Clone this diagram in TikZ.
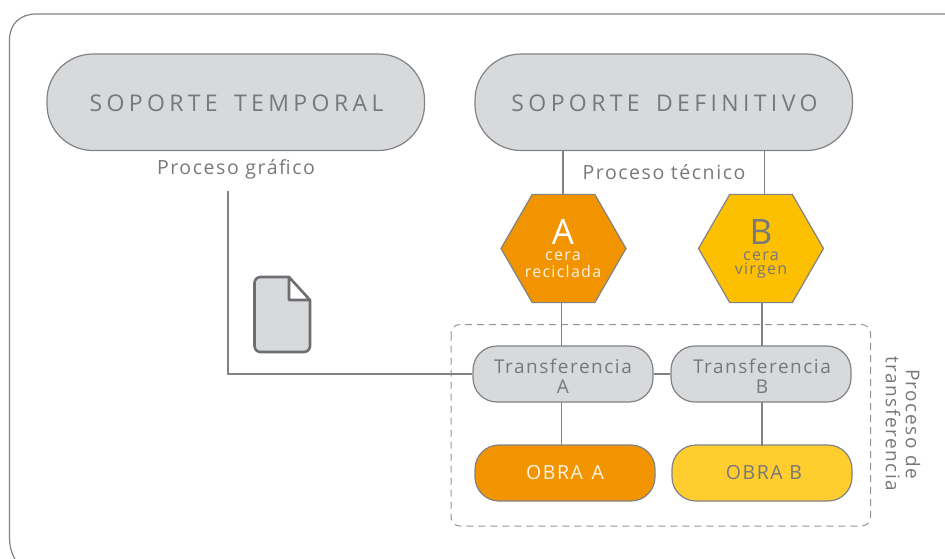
\documentclass[tikz,border=0pt]{standalone}
\usepackage{fontspec}
\setmainfont{Open Sans}
\newfontfamily\widesp[LetterSpace=19]{Open Sans}
\newfontfamily\midsp[LetterSpace=8]{Open Sans}
\definecolor{ln}{HTML}{808285}
\definecolor{fillg}{HTML}{D8D9DB}
\definecolor{txt}{HTML}{76787B}
\definecolor{orng}{HTML}{F29400}
\definecolor{yel}{HTML}{FCC000}
\definecolor{yel2}{HTML}{FFCE2E}
\definecolor{wht}{HTML}{FFF4E0}
\usetikzlibrary{shapes.geometric}
\tikzset{
 x=1pt,y=-1pt,
 conn/.style={draw=ln,line width=1.3pt},
 bigpill/.style={draw=ln,line width=1.2pt,rounded corners=46pt,fill=fillg,minimum width=377.5pt,minimum height=96.5pt,inner sep=0pt,text=txt,font=\widesp\fontsize{23}{23}\selectfont},
 smallpill/.style={draw=ln,line width=1.2pt,rounded corners=24pt,fill=fillg,minimum width=180pt,minimum height=56pt,inner sep=0pt,text=txt,align=center,font=\midsp\fontsize{19}{20}\selectfont},
 hexnode/.style={draw=ln,line width=1.2pt,regular polygon,regular polygon sides=6,minimum size=125pt,inner sep=0pt},
 lab/.style={text=txt,align=center,inner sep=0pt}
}
\begin{document}
\begin{tikzpicture}
\useasboundingbox (0,0) rectangle (945,558);
% frame
\draw[draw=ln,line width=1.2pt] (15,559) .. controls (11,552) and (9.5,546) .. (9.5,536) -- (9.5,40) .. controls (9.5,24) and (20,14) .. (36,14) -- (946,14);
% dashed
\draw[ln!85,line width=1pt,dash pattern=on 7pt off 5pt,rounded corners=9pt] (451,324.5) rectangle (870.5,526);
% nodes
\node[bigpill] (st) at (235.75,102.25) {};
\node[bigpill] (sd) at (663.75,102.25) {};
\node[lab,font=\widesp\fontsize{23}{23}\selectfont] (stl) at (236.5,103.5) {SOPORTE\hspace{6pt} TEMPORAL};
\node[lab,font=\widesp\fontsize{23}{23}\selectfont] (sdl) at (664.5,103.5) {SOPORTE\hspace{6pt} DEFINITIVO};
\node[lab,font=\midsp\fontsize{19.5}{19.5}\selectfont] (pgl) at (236,169.5) {Proceso gráfico};
\node[lab,font=\midsp\fontsize{19.5}{19.5}\selectfont] (ptl) at (664,172) {Proceso técnico};
\node[hexnode,fill=orng] (ha) at (563.5,248.5) {};
\node[hexnode,fill=yel] (hb) at (761,248.5) {};
\node[lab,text=white,font=\fontsize{35}{35}\selectfont] (a) at (563,232) {A};
\node[lab,font=\fontsize{35}{35}\selectfont] (b) at (761,232) {B};
\node[lab,text=wht,font=\midsp\fontsize{16}{16}\selectfont] (ac) at (563,256) {cera};
\node[lab,text=wht,font=\midsp\fontsize{16}{16}\selectfont] (ar) at (563,271) {reciclada};
\node[lab,font=\midsp\fontsize{16}{16}\selectfont] (bc) at (761,256) {cera};
\node[lab,font=\midsp\fontsize{16}{16}\selectfont] (bv) at (761,271) {virgen};
\node[smallpill] (ta) at (563,374) {};
\node[smallpill] (tb) at (761,374) {};
\node[lab,font=\midsp\fontsize{19}{20}\selectfont] (tal) at (563,376.5) {Transferencia\\A};
\node[lab,font=\midsp\fontsize{19}{20}\selectfont] (tbl) at (762,376.5) {Transferencia\\B};
\node[smallpill,fill=orng,text=wht,font=\midsp\fontsize{19.5}{19.5}\selectfont] (oa) at (565,473) {OBRA\hspace{2pt} A};
\node[smallpill,fill=yel2,font=\midsp\fontsize{19.5}{19.5}\selectfont] (ob) at (762,473) {\hspace*{4pt}OBRA B};
\node[lab,rotate=-90,font=\midsp\fontsize{19}{20}\selectfont] (side) at (903,424) {Proceso de\\transferencia};
% connectors
\coordinate (pg) at (228,191);
\draw[conn] (pg) |- (ta.west);
\draw[conn] (563,151) -- (563,194);
\draw[conn] (764.5,151) -- (764.5,194);
\draw[conn] (561.5,302) -- (561.5,346);
\draw[conn] (762,302) -- (762,346);
\draw[conn] (561.5,402) -- (561.5,446);
\draw[conn] (762,402) -- (762,446);
\draw[conn] (ta.east) -- (tb.west);
% doc icon
\draw[draw=ln!85!black,line width=2.6pt,fill=fillg,line join=round,rounded corners=6pt] (289,277) -- (254.5,277) -- (254.5,352) -- (310,352) -- (310,300);
\fill[fillg] (262,279) rectangle (288,300);
\draw[draw=ln!85!black,line width=2.6pt,fill=white,line join=round] (289,277) -- (289,300) -- (310,300) -- cycle;
\end{tikzpicture}
\end{document}
